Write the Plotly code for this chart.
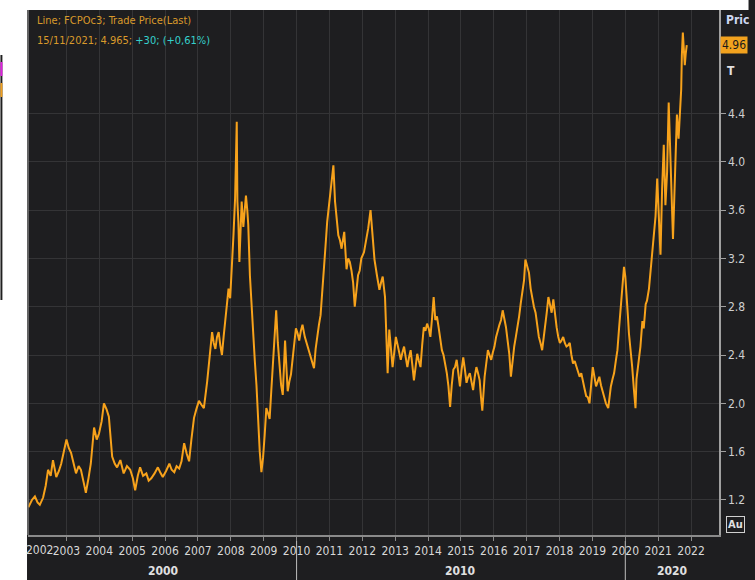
import plotly.graph_objects as go

# ---- data (decimal year, price) ----
dec_year = [
    2001.84, 2001.95, 2002.04, 2002.12, 2002.19, 2002.29, 2002.37, 2002.44, 2002.52, 2002.59,
    2002.69, 2002.77, 2002.84, 2002.92, 2003.00, 2003.07, 2003.14, 2003.22, 2003.29, 2003.37,
    2003.44, 2003.52, 2003.59, 2003.67, 2003.74, 2003.84, 2003.92, 2003.99, 2004.07, 2004.14,
    2004.22, 2004.29, 2004.35, 2004.39, 2004.47, 2004.54, 2004.64, 2004.74, 2004.84, 2004.94,
    2005.02, 2005.09, 2005.17, 2005.24, 2005.33, 2005.43, 2005.50, 2005.58, 2005.68, 2005.78,
    2005.85, 2005.93, 2006.03, 2006.13, 2006.20, 2006.28, 2006.35, 2006.43, 2006.50, 2006.58,
    2006.66, 2006.73, 2006.80, 2006.88, 2006.95, 2007.03, 2007.10, 2007.18, 2007.28, 2007.36,
    2007.43, 2007.48, 2007.53, 2007.58, 2007.63, 2007.68, 2007.73, 2007.78, 2007.83, 2007.88,
    2007.93, 2007.98, 2008.03, 2008.08, 2008.13, 2008.18, 2008.20, 2008.23, 2008.26, 2008.30,
    2008.33, 2008.38, 2008.42, 2008.46, 2008.50, 2008.53, 2008.58, 2008.63, 2008.68, 2008.73,
    2008.78, 2008.83, 2008.88, 2008.93, 2008.98, 2009.03, 2009.08, 2009.13, 2009.18, 2009.23,
    2009.28, 2009.33, 2009.38, 2009.43, 2009.48, 2009.53, 2009.58, 2009.62, 2009.65, 2009.69,
    2009.73, 2009.78, 2009.83, 2009.90, 2009.98, 2010.03, 2010.08, 2010.13, 2010.18, 2010.25,
    2010.33, 2010.43, 2010.53, 2010.58, 2010.63, 2010.68, 2010.73, 2010.78, 2010.83, 2010.88,
    2010.93, 2010.98, 2011.02, 2011.07, 2011.12, 2011.17, 2011.22, 2011.27, 2011.32, 2011.37,
    2011.45, 2011.52, 2011.57, 2011.62, 2011.67, 2011.72, 2011.77, 2011.82, 2011.87, 2011.92,
    2011.97, 2012.05, 2012.12, 2012.18, 2012.25, 2012.30, 2012.37, 2012.45, 2012.52, 2012.57,
    2012.62, 2012.69, 2012.77, 2012.82, 2012.87, 2012.92, 2012.97, 2013.02, 2013.10, 2013.17,
    2013.22, 2013.27, 2013.32, 2013.37, 2013.42, 2013.47, 2013.52, 2013.57, 2013.62, 2013.67,
    2013.72, 2013.77, 2013.82, 2013.87, 2013.92, 2013.97, 2014.02, 2014.07, 2014.12, 2014.17,
    2014.22, 2014.27, 2014.32, 2014.37, 2014.42, 2014.47, 2014.52, 2014.57, 2014.62, 2014.67,
    2014.72, 2014.77, 2014.82, 2014.87, 2014.92, 2014.97, 2015.02, 2015.07, 2015.12, 2015.17,
    2015.22, 2015.27, 2015.32, 2015.37, 2015.42, 2015.47, 2015.52, 2015.57, 2015.61, 2015.65,
    2015.72, 2015.77, 2015.82, 2015.87, 2015.92, 2015.97, 2016.02, 2016.07, 2016.12, 2016.17,
    2016.22, 2016.27, 2016.32, 2016.37, 2016.42, 2016.47, 2016.52, 2016.57, 2016.62, 2016.67,
    2016.72, 2016.77, 2016.82, 2016.87, 2016.92, 2016.96, 2017.02, 2017.07, 2017.12, 2017.17,
    2017.22, 2017.27, 2017.32, 2017.37, 2017.42, 2017.47, 2017.52, 2017.56, 2017.61, 2017.66,
    2017.71, 2017.76, 2017.81, 2017.86, 2017.91, 2017.96, 2018.01, 2018.06, 2018.11, 2018.16,
    2018.21, 2018.26, 2018.31, 2018.36, 2018.41, 2018.46, 2018.51, 2018.56, 2018.61, 2018.66,
    2018.71, 2018.76, 2018.81, 2018.86, 2018.91, 2018.96, 2019.01, 2019.06, 2019.11, 2019.16,
    2019.21, 2019.26, 2019.31, 2019.36, 2019.41, 2019.48, 2019.52, 2019.56, 2019.61, 2019.66,
    2019.71, 2019.76, 2019.81, 2019.86, 2019.91, 2019.96, 2020.00, 2020.04, 2020.08, 2020.11,
    2020.16, 2020.21, 2020.26, 2020.31, 2020.34, 2020.38, 2020.42, 2020.46, 2020.52, 2020.56,
    2020.62, 2020.66, 2020.72, 2020.77, 2020.82, 2020.87, 2020.92, 2020.97, 2021.02, 2021.07,
    2021.12, 2021.17, 2021.22, 2021.27, 2021.32, 2021.37, 2021.42, 2021.45, 2021.49, 2021.52,
    2021.57, 2021.62, 2021.67, 2021.70, 2021.72, 2021.75, 2021.78, 2021.81, 2021.84, 2021.87,
]
price = [
    1.14, 1.20, 1.23, 1.18, 1.16, 1.22, 1.32, 1.45, 1.40, 1.53,
    1.39, 1.44, 1.50, 1.60, 1.70, 1.63, 1.59, 1.50, 1.42, 1.48,
    1.45, 1.35, 1.26, 1.38, 1.50, 1.80, 1.70, 1.75, 1.85, 2.00,
    1.95, 1.89, 1.70, 1.56, 1.50, 1.47, 1.53, 1.42, 1.48, 1.45,
    1.38, 1.28, 1.40, 1.47, 1.40, 1.42, 1.36, 1.38, 1.42, 1.47,
    1.43, 1.39, 1.44, 1.50, 1.45, 1.43, 1.48, 1.46, 1.52, 1.67,
    1.58, 1.52, 1.70, 1.88, 1.95, 2.02, 1.99, 1.96, 2.18, 2.40,
    2.59, 2.50, 2.45, 2.55, 2.59, 2.48, 2.40, 2.55, 2.70, 2.82,
    2.95, 2.87, 3.10, 3.39, 3.70, 4.33, 3.67, 3.50, 3.17, 3.50,
    3.67, 3.46, 3.60, 3.72, 3.60, 3.48, 3.06, 2.80, 2.57, 2.35,
    2.15, 1.85, 1.60, 1.43, 1.55, 1.74, 1.96, 1.92, 1.87, 2.10,
    2.34, 2.55, 2.77, 2.50, 2.29, 2.15, 2.07, 2.30, 2.52, 2.30,
    2.10, 2.18, 2.24, 2.42, 2.62, 2.58, 2.52, 2.60, 2.65, 2.55,
    2.48, 2.38, 2.29, 2.45, 2.57, 2.65, 2.73, 2.90, 3.11, 3.30,
    3.50, 3.62, 3.72, 3.85, 3.97, 3.67, 3.50, 3.39, 3.35, 3.28,
    3.42, 3.11, 3.20, 3.17, 3.10, 3.00, 2.80, 2.95, 3.06, 3.10,
    3.20, 3.25, 3.35, 3.45, 3.60, 3.40, 3.19, 3.05, 2.94, 3.00,
    3.05, 2.88, 2.25, 2.61, 2.45, 2.30, 2.42, 2.55, 2.45, 2.36,
    2.42, 2.47, 2.38, 2.30, 2.38, 2.44, 2.32, 2.19, 2.30, 2.41,
    2.35, 2.30, 2.48, 2.63, 2.60, 2.66, 2.62, 2.55, 2.70, 2.88,
    2.69, 2.72, 2.63, 2.55, 2.44, 2.40, 2.33, 2.25, 2.14, 1.97,
    2.15, 2.28, 2.30, 2.36, 2.25, 2.14, 2.28, 2.38, 2.28, 2.17,
    2.22, 2.25, 2.18, 2.11, 2.22, 2.30, 2.25, 2.19, 2.05, 1.94,
    2.22, 2.35, 2.44, 2.40, 2.36, 2.42, 2.47, 2.55, 2.61, 2.65,
    2.69, 2.77, 2.70, 2.63, 2.52, 2.41, 2.22, 2.35, 2.47, 2.55,
    2.63, 2.72, 2.83, 2.92, 3.02, 3.19, 3.13, 3.08, 2.95, 2.86,
    2.80, 2.75, 2.65, 2.55, 2.50, 2.44, 2.55, 2.63, 2.75, 2.88,
    2.80, 2.75, 2.86, 2.72, 2.63, 2.55, 2.50, 2.52, 2.55, 2.50,
    2.47, 2.48, 2.50, 2.40, 2.33, 2.35, 2.30, 2.26, 2.22, 2.25,
    2.17, 2.12, 2.06, 2.05, 2.00, 2.15, 2.30, 2.22, 2.14, 2.18,
    2.22, 2.15, 2.09, 2.05, 2.00, 1.96, 2.05, 2.14, 2.20, 2.25,
    2.35, 2.44, 2.62, 2.80, 2.98, 3.13, 3.05, 2.91, 2.72, 2.58,
    2.45, 2.30, 2.12, 1.96, 2.20, 2.30, 2.37, 2.47, 2.68, 2.62,
    2.82, 2.85, 2.95, 3.11, 3.20, 3.36, 3.55, 3.86, 3.50, 3.23,
    3.78, 4.14, 3.64, 3.91, 4.49, 4.06, 3.50, 3.36, 3.70, 3.91,
    4.39, 4.19, 4.47, 4.60, 4.88, 5.07, 4.93, 4.80, 4.90, 4.965,
]

year_ticks = list(range(2003, 2023))
year_labels = [str(y) for y in year_ticks]
first_year_label = "2002"
decade_labels = ["2000", "2010", "2020"]
y_ticks = [1.2, 1.6, 2.0, 2.4, 2.8, 3.2, 3.6, 4.0, 4.4]
y_labels = ["1.2", "1.6", "2.0", "2.4", "2.8", "3.2", "3.6", "4.0", "4.4"]
legend_line1 = "Line; FCPOc3; Trade Price(Last)"
legend_date = "15/11/2021; 4.965; "
legend_change = "+30; (+0,61%)"
last_price_label = "4.965"

# ---- layout geometry (pixels) ----
W, H = 755, 580
L, R, T, B = 28, 730, 10, 535

def px_x(px):
    return (px - L) / (R - L)

def px_y(py):
    return (B - py) / (B - T)

FONT = "DejaVu Sans Condensed, Liberation Sans Narrow, Arial Narrow, sans-serif"
BG = "#1e1e20"
GRID = "#343436"
ORANGE = "#f7a21b"

fig = go.Figure()
fig.add_trace(go.Scatter(
    x=dec_year, y=price, mode="lines",
    line=dict(color=ORANGE, width=2),
    hoverinfo="skip", showlegend=False,
))

fig.update_layout(
    width=W, height=H,
    margin=dict(l=L, r=W - R, t=T, b=H - B),
    paper_bgcolor=BG, plot_bgcolor=BG,
    font=dict(family=FONT, color="#d4d4d4", size=12),
    showlegend=False,
    xaxis=dict(
        range=[2001.83, 2022.85],
        tickvals=year_ticks, ticktext=year_labels,
        showgrid=True, gridcolor=GRID, gridwidth=1,
        zeroline=False,
        showline=True, linecolor="#8a8a8a", linewidth=1.5,
        ticks="outside", ticklen=4, tickcolor="#8a8a8a",
        tickfont=dict(family=FONT, size=12, color="#d8d8d8"),
    ),
    yaxis=dict(
        side="right",
        range=[0.910, 5.256],
        tickvals=y_ticks, ticktext=y_labels,
        showgrid=True, gridcolor=GRID, gridwidth=1,
        zeroline=False,
        showline=True, linecolor="#a0a0a0", linewidth=1.5,
        ticks="outside", ticklen=5, tickcolor="#a0a0a0",
        tickfont=dict(family=FONT, size=12, color="#cfcfcf"),
    ),
)

shapes = [
    # white strips (screenshot edges)
    dict(type="rect", xref="paper", yref="paper", x0=px_x(-5), x1=px_x(27), y0=px_y(590), y1=px_y(-5),
         fillcolor="white", line=dict(width=0), layer="above"),
    dict(type="rect", xref="paper", yref="paper", x0=px_x(-5), x1=px_x(760), y0=px_y(10), y1=px_y(-5),
         fillcolor="white", line=dict(width=0), layer="above"),
    # thin dark edge on the far left
    dict(type="rect", xref="paper", yref="paper", x0=px_x(0), x1=px_x(2), y0=px_y(300), y1=px_y(55),
         fillcolor="#202020", line=dict(width=0), layer="above"),
    dict(type="rect", xref="paper", yref="paper", x0=px_x(0), x1=px_x(2), y0=px_y(76), y1=px_y(62),
         fillcolor="#e020e0", line=dict(width=0), layer="above"),
    dict(type="rect", xref="paper", yref="paper", x0=px_x(0), x1=px_x(2), y0=px_y(97), y1=px_y(83),
         fillcolor="#f0a020", line=dict(width=0), layer="above"),
    # left frame line
    dict(type="line", xref="paper", yref="paper", x0=0, x1=0, y0=0, y1=1,
         line=dict(color="#7a7a7a", width=1.5)),
    # decade separators below the axis
    dict(type="line", xref="x", yref="paper", x0=2010, x1=2010, y0=px_y(541), y1=px_y(580),
         line=dict(color="#bdbdbd", width=1)),
    dict(type="line", xref="x", yref="paper", x0=2020, x1=2020, y0=px_y(541), y1=px_y(580),
         line=dict(color="#bdbdbd", width=1)),
]
fig.update_layout(shapes=shapes)

annotations = [
    dict(xref="paper", yref="paper", x=px_x(35), y=px_y(20), xanchor="left", yanchor="middle",
         text=legend_line1, showarrow=False,
         font=dict(family=FONT, size=11, color="#d99a2b")),
    dict(xref="paper", yref="paper", x=px_x(35), y=px_y(41), xanchor="left", yanchor="middle",
         text=f"<span style='color:#d99a2b'>{legend_date}</span><span style='color:#35d0cc'>{legend_change}</span>",
         showarrow=False, font=dict(family=FONT, size=11)),
    dict(xref="paper", yref="paper", x=px_x(40), y=px_y(550), xanchor="center", yanchor="middle",
         text=first_year_label, showarrow=False,
         font=dict(family=FONT, size=12, color="#d8d8d8")),
    dict(xref="paper", yref="paper", x=px_x(165), y=px_y(571), xanchor="center", yanchor="middle",
         text=f"<b>{decade_labels[0]}</b>", showarrow=False,
         font=dict(family=FONT, size=12, color="#e0e0e0")),
    dict(xref="paper", yref="paper", x=px_x(467), y=px_y(571), xanchor="center", yanchor="middle",
         text=f"<b>{decade_labels[1]}</b>", showarrow=False,
         font=dict(family=FONT, size=12, color="#e0e0e0")),
    dict(xref="paper", yref="paper", x=px_x(682), y=px_y(571), xanchor="center", yanchor="middle",
         text=f"<b>{decade_labels[2]}</b>", showarrow=False,
         font=dict(family=FONT, size=12, color="#e0e0e0")),
    # right-hand panel labels
    dict(xref="paper", yref="paper", x=px_x(735), y=px_y(20), xanchor="left", yanchor="middle",
         text="<b>Pric</b>", showarrow=False,
         font=dict(family=FONT, size=12, color="#cdd6f0")),
    dict(xref="paper", yref="paper", x=px_x(731), y=px_y(45), xanchor="left", yanchor="middle",
         text=last_price_label[:4], showarrow=False, bgcolor="#f2a21e", borderpad=1,
         font=dict(family=FONT, size=12, color="#1a1a1a")),
    dict(xref="paper", yref="paper", x=px_x(736), y=px_y(71), xanchor="left", yanchor="middle",
         text="<b>T</b>", showarrow=False,
         font=dict(family=FONT, size=12, color="#e0e0e0")),
    dict(xref="paper", yref="paper", x=px_x(737), y=px_y(524), xanchor="left", yanchor="middle",
         text="<b>Au</b>", showarrow=False, bordercolor="#d0d0d0", borderwidth=1, borderpad=1,
         font=dict(family=FONT, size=11, color="#e0e0e0")),
]
fig.update_layout(annotations=annotations)

fig.write_html(
    "out.html",
    config={"displayModeBar": False, "staticPlot": True},
    post_script="document.body.style.margin='0';document.body.style.padding='0';document.body.style.overflow='hidden';",
)
